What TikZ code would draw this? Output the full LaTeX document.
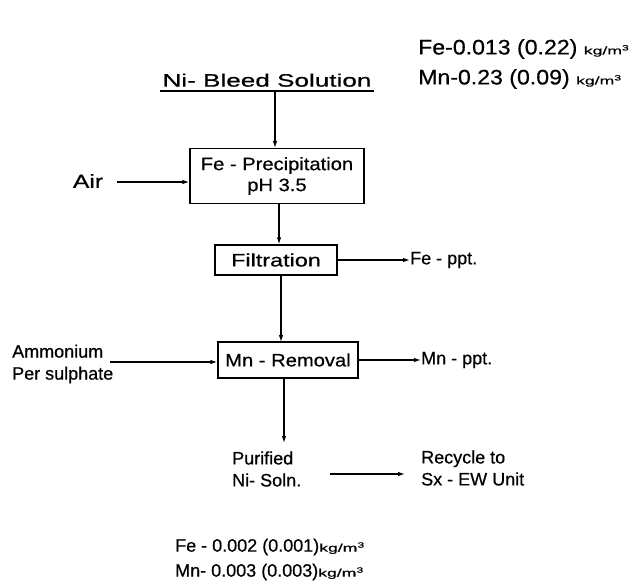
\documentclass[tikz,border=0pt]{standalone}
\usepackage{fontspec}
\setmainfont{Liberation Sans}[FakeBold=0.6]
\usetikzlibrary{arrows.meta}
\newcommand{\unitkg}{{\fontsize{11}{12}\selectfont\addfontfeature{FakeStretch=1.6}kg/m\textsuperscript{3}}}
\begin{document}
\begin{tikzpicture}[x=1pt,y=-1pt,
  txt/.style={font=\fontsize{18}{22}\selectfont, inner sep=0pt, align=left},
  bigtxt/.style={font=\fontsize{21}{29}\selectfont\addfontfeature{FakeStretch=1.1}, inner sep=0pt, anchor=west},
  midtxt/.style={font=\fontsize{18}{24}\selectfont, inner sep=0pt, anchor=west},
  procbox/.style={draw, line width=1.3pt, inner sep=0pt, align=center, font=\fontsize{18}{21}\selectfont\addfontfeature{FakeStretch=1.12}},
  flow/.style={-{Latex[length=7pt,width=4.5pt]}, line width=1.2pt}]
\useasboundingbox (0,0) rectangle (637,588);
% feed
\node[inner sep=0pt, minimum width=213pt, anchor=south, inner ysep=4pt,
  font=\fontsize{18}{22}\selectfont\addfontfeature{FakeStretch=1.45}] (bleed) at (267,91) {Ni- Bleed Solution};
\draw[line width=1.3pt] (bleed.south west) -- (bleed.south east);
% top analyses
\node[bigtxt] (ftop) at (418,49) {Fe-0.013 (0.22) \unitkg};
\node[bigtxt] (mtop) at (418,79) {Mn-0.23 (0.09) \unitkg};
% process boxes
\node[procbox, minimum width=174pt, minimum height=55pt] (fe) at (277,176) {Fe - Precipitation\\pH 3.5};
\node[procbox, minimum width=122pt, minimum height=30pt,
  font=\fontsize{18}{21}\selectfont\addfontfeature{FakeStretch=1.3}] (filt) at (276,260) {Filtration};
\node[procbox, minimum width=140pt, minimum height=36pt] (mn) at (288,360) {Mn - Removal};
% side labels
\node[txt, anchor=center, font=\fontsize{19}{22}\selectfont\addfontfeature{FakeStretch=1.3}] (air) at (88,181) {Air};
\node[txt, anchor=west] (feppt) at (410,260) {Fe - ppt.};
\node[txt, anchor=west] (amm) at (12,364) {Ammonium\\Per sulphate};
\node[txt, anchor=west] (mnppt) at (421,360) {Mn - ppt.};
\node[txt, anchor=west] (pur) at (232,469) {Purified\\Ni- Soln.};
\node[txt, anchor=west] (rec) at (421,468) {Recycle to\\Sx - EW Unit};
% bottom analyses
\node[midtxt] (fbot) at (175,547) {Fe - 0.002 (0.001)\unitkg};
\node[midtxt] (mbot) at (175,572) {Mn- 0.003 (0.003)\unitkg};
% coordinates for connector ends
\coordinate (airend) at (117,182);
\coordinate (fetop) at (275,148);
\coordinate (fbtm) at (279,203);
\coordinate (mntop) at (281,342);
\coordinate (mnbtm) at (284,378);
\coordinate (purtop) at (284,443);
\coordinate (ammend) at (110,362);
\coordinate (recst) at (330,474);
\coordinate (recend) at (405,474);
% connectors
\draw[flow] (bleed.south -| fetop) -- (fetop);
\draw[flow] (airend) -- (fe.west |- airend);
\draw[flow] (fbtm) -- (fbtm |- filt.north);
\draw[flow] (filt.south -| mntop) -- (mntop);
\draw[flow] (filt.east) -- (feppt.west);
\draw[flow] (ammend) -- (mn.west |- ammend);
\draw[flow] (mn.east) -- (mnppt.west);
\draw[flow] (mnbtm) -- (purtop);
\draw[flow] (recst) -- (recend);
\end{tikzpicture}
\end{document}
